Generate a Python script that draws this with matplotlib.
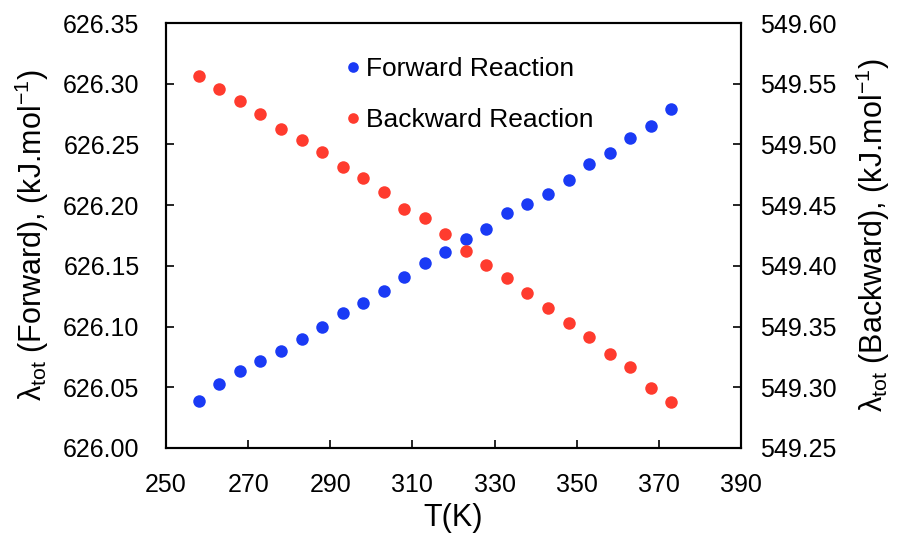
import matplotlib
matplotlib.use("Agg")
import matplotlib.pyplot as plt

plt.rcParams['font.family'] = ['Liberation Sans', 'DejaVu Sans']
plt.rcParams['mathtext.fontset'] = 'custom'
plt.rcParams['mathtext.rm'] = 'Liberation Sans'
plt.rcParams['mathtext.it'] = 'Liberation Sans:italic'
plt.rcParams['mathtext.bf'] = 'Liberation Sans:bold'

T = [258, 263, 268, 273, 278, 283, 288, 293, 298, 303, 308, 313,
     318, 323, 328, 333, 338, 343, 348, 353, 358, 363, 368, 373]
forward = [626.039, 626.0525, 626.063, 626.072, 626.080, 626.090, 626.100, 626.111,
           626.119, 626.129, 626.141, 626.152, 626.161, 626.172, 626.1806, 626.1937,
           626.201, 626.209, 626.2206, 626.234, 626.243, 626.2555, 626.265, 626.279]
backward = [549.556, 549.546, 549.536, 549.525, 549.513, 549.504, 549.494, 549.481,
            549.4725, 549.461, 549.447, 549.439, 549.426, 549.412, 549.401, 549.390,
            549.3775, 549.3656, 549.353, 549.341, 549.327, 549.317, 549.299, 549.288]

x_ticks = [250, 270, 290, 310, 330, 350, 370, 390]
left_ticks = [626.00, 626.05, 626.10, 626.15, 626.20, 626.25, 626.30, 626.35]
right_ticks = [549.25, 549.30, 549.35, 549.40, 549.45, 549.50, 549.55, 549.60]

blue = '#1a3af5'
red = '#ff3b2e'

fig = plt.figure(figsize=(9.09, 5.40), dpi=100)
ax = fig.add_axes([0.1826, 0.1704, 0.8152 - 0.1826, 0.9574 - 0.1704])
ax2 = ax.twinx()

h1, = ax.plot(T, forward, 'o', color=blue, markersize=9, markeredgewidth=0,
              label='Forward Reaction', zorder=3)
h2, = ax2.plot(T, backward, 'o', color=red, markersize=9, markeredgewidth=0,
               label='Backward Reaction', zorder=3)

ax.set_xlim(250, 390)
ax.set_ylim(626.00, 626.35)
ax2.set_ylim(549.25, 549.60)
ax.set_xticks(x_ticks)
ax.set_yticks(left_ticks)
ax.set_yticklabels([f'{v:.2f}' for v in left_ticks])
ax2.set_yticks(right_ticks)
ax2.set_yticklabels([f'{v:.2f}' for v in right_ticks])

fs = 18
lfs = 22
for a in (ax, ax2):
    for s in a.spines.values():
        s.set_linewidth(1.5)
ax.tick_params(axis='x', direction='in', length=6, width=1.2, labelsize=fs, pad=18, top=False)
ax.tick_params(axis='y', direction='in', length=6, width=1.2, labelsize=fs, pad=19, right=False)
ax2.tick_params(axis='y', direction='in', length=6, width=1.2, labelsize=fs, pad=14)

ax.set_xlabel('T(K)', fontsize=lfs, labelpad=4)
ax.set_ylabel('λ$_{\\mathrm{tot}}$ (Forward), (kJ.mol$^{\\mathrm{-1}}$)', fontsize=lfs, labelpad=9)
ax2.set_ylabel('λ$_{\\mathrm{tot}}$ (Backward), (kJ.mol$^{\\mathrm{-1}}$)', fontsize=lfs, labelpad=12)

leg = ax.legend([h1, h2], ['Forward Reaction', 'Backward Reaction'], loc='upper left',
                bbox_to_anchor=(0.275, 0.975), frameon=False, fontsize=19,
                handlelength=0.4, handletextpad=0.3, labelspacing=1.0, markerscale=0.85)

fig.savefig('out.png', dpi=100)
